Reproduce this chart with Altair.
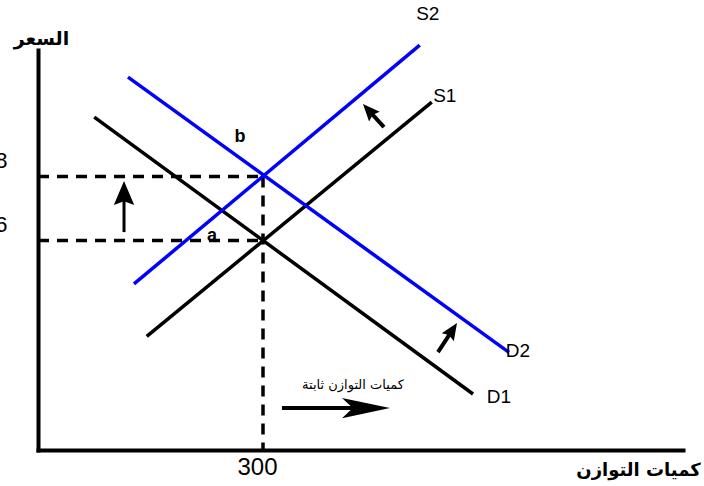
import math
import altair as alt
import pandas as pd

# ---- scale extents (quantity on x, price on y) ----
Q_DOMAIN = [0, 860]
P_DOMAIN = [-0.55, 11.95]
PLOT_W, PLOT_H = 645, 400

# ---- equilibrium values ----
Q_EQ = 300
P_OLD = 6
P_NEW = 8

# ---- supply and demand curves: endpoints in (quantity, price) ----
curve_names = ["D1", "S1", "D2", "S2"]
curve_q_start = [75, 145, 120, 128]
curve_p_start = [9.85, 3.0, 11.1, 4.64]
curve_q_end = [580, 525, 628, 509]
curve_p_end = [1.2, 10.32, 2.5, 12.1]

# ---- shift arrows: tail and tip in (quantity, price) ----
arrow_names = ["price_up", "supply_shift", "demand_shift", "quantity_fixed"]
arrow_q_tail = [114.7, 461.3, 533.3, 325.3]
arrow_p_tail = [6.26, 9.54, 2.51, 0.76]
arrow_q_tip = [114.7, 433.3, 558.7, 469.3]
arrow_p_tip = [7.86, 10.26, 3.42, 0.76]

# ---- texts ----
price_title = "السعر"
quantity_title = "كميات التوازن"
quantity_note = "كميات التوازن ثابتة"
price_ticks = [P_OLD, P_NEW]
quantity_ticks = [Q_EQ]
point_labels = ["a", "b"]

# ---- styling ----
CURVE_COLOR = {"D1": "#000000", "S1": "#000000", "D2": "#0000ff", "S2": "#0000ff"}
LABEL_SHIFT = {"D1": (26, 3), "S1": (13, -6), "D2": (9, -1), "S2": (8, -31)}
HEAD_LONG = "M0,0L-2,-0.42L-1.55,0L-2,0.42Z"
HEAD_SHORT = "M0,0L-2,-0.85L-1.7,0L-2,0.85Z"
ARROW_STYLE = {
    "price_up": dict(head=HEAD_SHORT, head_len=24, width=3),
    "supply_shift": dict(head=HEAD_SHORT, head_len=17, width=4),
    "demand_shift": dict(head=HEAD_SHORT, head_len=17, width=4),
    "quantity_fixed": dict(head=HEAD_LONG, head_len=48, width=4),
}
LATIN = "Liberation Sans"
ARABIC = "DejaVu Sans"

KX = PLOT_W / (Q_DOMAIN[1] - Q_DOMAIN[0])
KY = PLOT_H / (P_DOMAIN[1] - P_DOMAIN[0])

x_scale = alt.Scale(domain=Q_DOMAIN, nice=False, zero=False)
y_scale = alt.Scale(domain=P_DOMAIN, nice=False, zero=False)

x_axis = alt.Axis(
    values=quantity_ticks, grid=False, ticks=False, tickSize=0,
    domainColor="#000000", domainWidth=4, domainCap="square",
    labelFont=LATIN, labelFontSize=24, labelColor="#000000",
    labelPadding=5, labelOffset=-6, labelFlush=False,
    title=quantity_title, titleX=600, titleY=25, titleAngle=0,
    titleAlign="center", titleBaseline="alphabetic",
    titleFont=ARABIC, titleFontSize=18, titleFontWeight="bold",
    titleColor="#000000")
y_axis = alt.Axis(
    values=price_ticks, grid=False, ticks=False, tickSize=0,
    domainColor="#000000", domainWidth=4, domainCap="square",
    labelFont=LATIN, labelFontSize=22, labelColor="#000000",
    labelPadding=31, labelOffset=-16, labelFlush=False,
    title=price_title, titleX=3, titleY=-6, titleAngle=0,
    titleAlign="center", titleBaseline="alphabetic",
    titleFont=ARABIC, titleFontSize=19, titleFontWeight="bold",
    titleColor="#000000")


def qx(field):
    return alt.X(field, type="quantitative", scale=x_scale, axis=x_axis)


def py(field):
    return alt.Y(field, type="quantitative", scale=y_scale, axis=y_axis)


# ---- tables ----
curves = pd.DataFrame({
    "curve": curve_names,
    "q": curve_q_start, "p": curve_p_start,
    "q2": curve_q_end, "p2": curve_p_end,
})

guides = pd.DataFrame({
    "q": [0, 0, Q_EQ],
    "p": [P_NEW, P_OLD, P_NEW],
    "q2": [Q_EQ, Q_EQ, Q_EQ],
    "p2": [P_NEW, P_OLD, P_DOMAIN[0]],
})

rows = []
for name, qt, pt, qh, ph in zip(arrow_names, arrow_q_tail, arrow_p_tail,
                                arrow_q_tip, arrow_p_tip):
    st = ARROW_STYLE[name]
    dxp = (qh - qt) * KX
    dyp = -(ph - pt) * KY
    length = math.hypot(dxp, dyp)
    frac = 1 - 0.55 * st["head_len"] / length
    rows.append({
        "arrow": name,
        "q": qt, "p": pt,
        "qs": qt + (qh - qt) * frac, "ps": pt + (ph - pt) * frac,
        "qh": qh, "ph": ph,
        "angle": math.degrees(math.atan2(dyp, dxp)) % 360,
        "size": st["head_len"] ** 2,
        "head": st["head"],
        "width": st["width"],
    })
arrows = pd.DataFrame(rows)

# ---- layers ----
curve_layer = alt.Chart(curves).mark_rule(strokeWidth=3.5, strokeCap="butt").encode(
    x=qx("q"), y=py("p"),
    x2="q2:Q", y2="p2:Q",
    color=alt.Color("curve:N", scale=alt.Scale(
        domain=curve_names, range=[CURVE_COLOR[c] for c in curve_names]),
        legend=None),
)

guide_layer = alt.Chart(guides).mark_rule(
    strokeWidth=3.5, strokeDash=[11, 8], color="#000000", strokeCap="butt"
).encode(
    x=qx("q"), y=py("p"),
    x2="q2:Q", y2="p2:Q",
)

shaft_layer = alt.Chart(arrows).mark_rule(color="#000000", strokeCap="butt").encode(
    x=qx("q"), y=py("p"),
    x2="qs:Q", y2="ps:Q",
    strokeWidth=alt.StrokeWidth("width:Q", scale=None),
)

head_layer = alt.Chart(arrows).mark_point(
    filled=True, opacity=1, color="#000000", strokeWidth=0
).encode(
    x=qx("qh"), y=py("ph"),
    shape=alt.Shape("head:N", scale=None),
    size=alt.Size("size:Q", scale=None),
    angle=alt.Angle("angle:Q", scale=None),
)

label_layers = []
for i, name in enumerate(curve_names):
    dx, dy = LABEL_SHIFT[name]
    label_layers.append(
        alt.Chart(curves.iloc[[i]]).mark_text(
            text=name, font=LATIN, fontSize=19, color="#000000",
            align="center", baseline="middle", dx=dx, dy=dy,
        ).encode(x=qx("q2"), y=py("p2"))
    )

eq_points = pd.DataFrame({"q": [Q_EQ, Q_EQ], "p": [P_OLD, P_NEW], "label": point_labels})
eq_shift = {"a": (-51, -4), "b": (-23, -39)}
for lab in point_labels:
    dx, dy = eq_shift[lab]
    label_layers.append(
        alt.Chart(eq_points[eq_points["label"] == lab]).mark_text(
            font=LATIN, fontSize=18, fontWeight="bold", color="#000000",
            align="center", baseline="middle", dx=dx, dy=dy,
        ).encode(x=qx("q"), y=py("p"), text="label:N")
    )

note_row = arrows[arrows["arrow"] == "quantity_fixed"].assign(
    qm=lambda d: (d["q"] + d["qh"]) / 2
)
note_layer = alt.Chart(note_row).mark_text(
    text=quantity_note, font=ARABIC, fontSize=13, color="#000000",
    align="center", baseline="middle", dx=17, dy=-23,
).encode(x=qx("qm"), y=py("p"))

chart = alt.layer(
    guide_layer, curve_layer, shaft_layer, head_layer, note_layer, *label_layers
).properties(
    width=PLOT_W,
    height=PLOT_H,
    padding={"left": 38, "top": 50, "right": 21, "bottom": 36},
    autosize=alt.AutoSizeParams(type="none"),
    background="#ffffff",
).configure_view(stroke=None)

chart.save("out.html", embed_options={"renderer": "svg", "actions": False})
